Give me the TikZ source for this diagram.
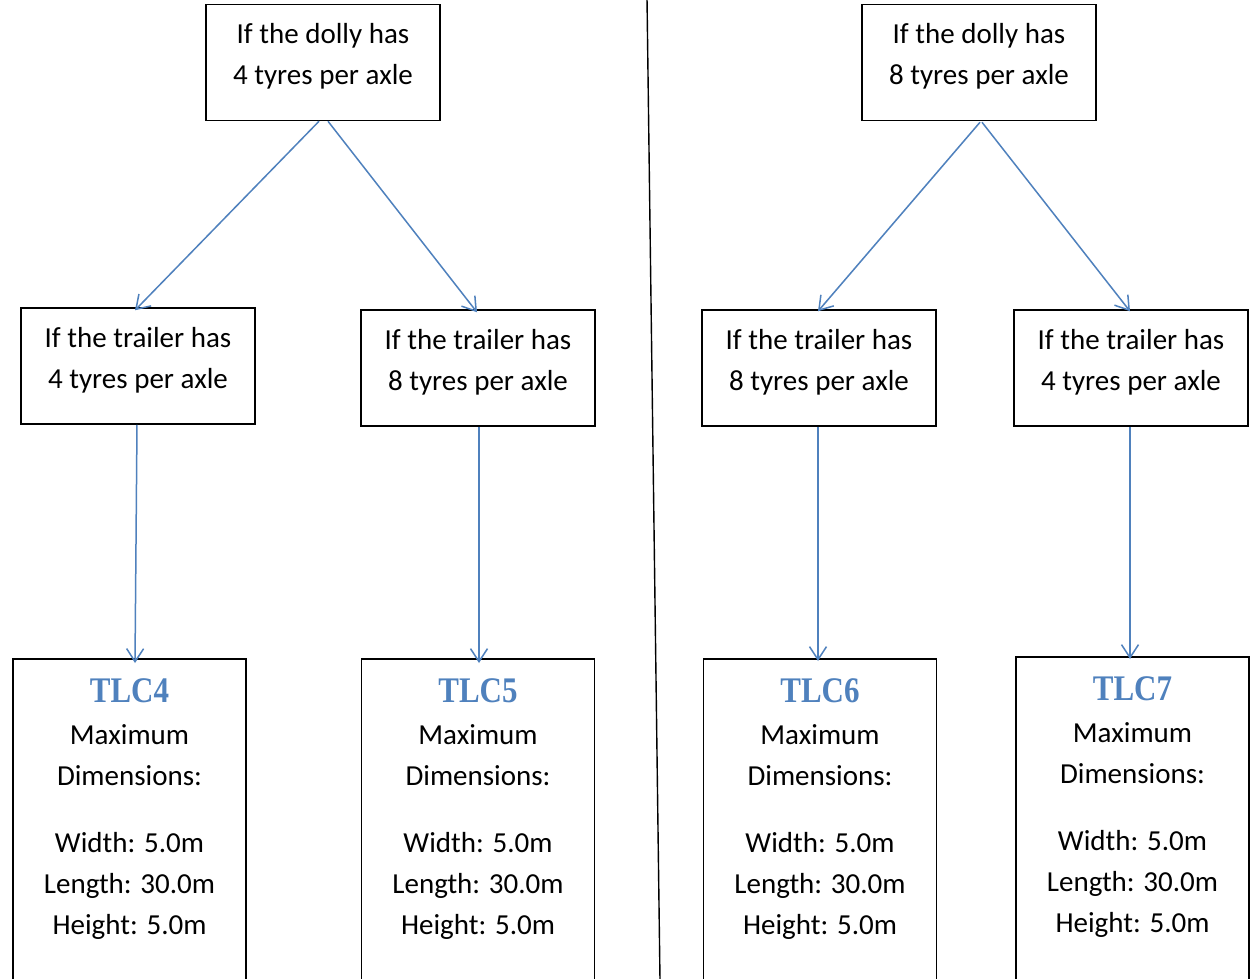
\documentclass[tikz,border=0pt]{standalone}
\usepackage{fontspec}
\setmainfont{Carlito}
\newfontfamily\titlefont[FakeStretch=0.86]{Liberation Serif}
\usetikzlibrary{arrows.meta}
\definecolor{accent}{RGB}{79,129,189}
\newcommand\tlcstyle{\titlefont\bfseries\fontsize{36}{41}\selectfont\color{accent}}
\tikzset{
  qbox/.style={draw=black, line width=1.5pt, minimum width=234pt, minimum height=116pt, inner sep=0pt},
  qtext/.style={align=center, inner sep=0pt, font=\fontsize{29}{41}\selectfont},
  rbox/.style={draw=black, line width=1.5pt, minimum width=233pt, minimum height=340pt, anchor=north, inner sep=0pt},
  rtext/.style={anchor=north, align=center, inner sep=0pt, font=\fontsize{29}{41}\selectfont},
  arr/.style={draw=accent, line width=1.5pt, -{Straight Barb[length=13pt,width=17pt,line width=1.5pt]}},
  divider/.style={draw=black, line width=1.4pt}
}
\begin{document}
\begin{tikzpicture}[x=1pt,y=-1pt]
\clip (0,0) rectangle (1251,978);
\fill[white] (0,0) rectangle (1251,978);
% divider
\coordinate (d1) at (647,-2);
\coordinate (d2) at (660,980);
\draw[divider] (d1) -- (d2);
% top boxes
\node[qbox] (T1) at (323,62.5) {};
\node[qbox] (T2) at (979,62.5) {};
% middle boxes
\node[qbox] (A) at (138,366) {};
\node[qbox] (B) at (478,368) {};
\node[qbox] (C) at (819,368) {};
\node[qbox] (D) at (1131,368) {};
\node[qtext] (T1t) at ([yshift=6pt]T1.center) {If the dolly has\\4 tyres per axle};
\node[qtext] (T2t) at ([yshift=6pt]T2.center) {If the dolly has\\8 tyres per axle};
\node[qtext] (At) at ([yshift=6pt]A.center) {If the trailer has\\4 tyres per axle};
\node[qtext] (Bt) at ([yshift=6pt]B.center) {If the trailer has\\8 tyres per axle};
\node[qtext] (Ct) at ([yshift=6pt]C.center) {If the trailer has\\8 tyres per axle};
\node[qtext] (Dt) at ([yshift=6pt]D.center) {If the trailer has\\4 tyres per axle};
% result boxes
\node[rbox] (E) at (129.5,658) {};
\node[rbox] (F) at (478,658) {};
\node[rbox] (G) at (820,658) {};
\node[rbox] (H) at (1132.5,656) {};
\foreach \b/\n in {E/4,F/5,G/6,H/7}{
  \node[rtext] (\b t) at ([yshift=-20pt]\b.north) {{\tlcstyle TLC\n}\\[1pt]Maximum\\Dimensions:\\[26pt]Width: 5.0m\\Length: 30.0m\\Height: 5.0m};
}
% arrows
\draw[arr] ([xshift=-4pt]T1.south) -- ([xshift=-3pt,yshift=-3pt]A.north);
\draw[arr] ([xshift=5pt]T1.south) -- ([xshift=-1pt,yshift=-3pt]B.north);
\draw[arr] ([xshift=1pt,yshift=-1pt]T2.south) -- ([xshift=-1pt,yshift=-2pt]C.north);
\draw[arr] ([xshift=3pt,yshift=-1pt]T2.south) -- ([xshift=-1pt,yshift=-2pt]D.north);
\draw[arr] ([xshift=-1pt]A.south) -- ([xshift=5.5pt,yshift=-5pt]E.north);
\draw[arr] ([xshift=1pt]B.south) -- ([xshift=1pt,yshift=-5pt]F.north);
\draw[arr] ([xshift=-1pt]C.south) -- ([xshift=-2pt,yshift=-3pt]G.north);
\draw[arr] ([xshift=-1pt]D.south) -- ([xshift=-2.5pt,yshift=-3pt]H.north);
\end{tikzpicture}
\end{document}
